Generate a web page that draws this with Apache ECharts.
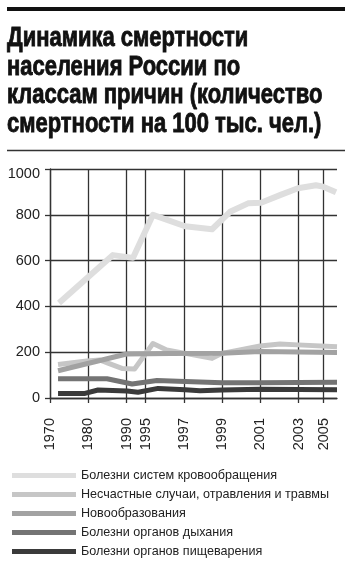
<!DOCTYPE html>
<html>
<head>
<meta charset="utf-8">
<script src="https://cdn.jsdelivr.net/npm/echarts@6/dist/echarts.min.js"></script>
<style>
html,body{margin:0;padding:0;background:#fff;}
#c{width:350px;height:566px;}
</style>
</head>
<body>
<div id="c"></div>
<script>
// Axis: positions are in "axis steps" along the horizontal scale (not evenly spaced years)
var tickPos = [0, 2, 4, 5, 7, 9, 11, 13, 14.3];
var tickLabels = ['1970', '1980', '1990', '1995', '1997', '1999', '2001', '2003', '2005'];
var yTicks = [0, 200, 400, 600, 800, 1000];

var titleText = 'Динамика смертности\nнаселения России по\nклассам причин (количество\nсмертности на 100 тыс. чел.)';

var seriesNames = [
  'Болезни систем кровообращения',
  'Несчастные случаи, отравления и травмы',
  'Новообразования',
  'Болезни органов дыхания',
  'Болезни органов пищеварения'
];

var circX = [0.47, 3.29, 4.34, 5.38, 7.06, 8.47, 9.41, 10.35, 11.03, 12.02, 12.96, 13.9, 14.27, 14.95];
var circY = [415, 624, 612, 800, 750, 737, 813, 850, 853, 886, 916, 929, 923, 898];

var accX = [0.42, 1.93, 2.6, 3.03, 3.76, 4.42, 5.38, 6.1, 7.06, 8.47, 8.99, 10.98, 12.02, 12.96, 15];
var accY = [146, 162, 166, 152, 129, 127, 238, 210, 195, 173, 195, 227, 236, 232, 224];

var neoX = [0.42, 4.0, 6.27, 8.99, 10.98, 15];
var neoY = [119, 192, 194, 195, 203, 199];

var respX = [0.42, 2.98, 4.29, 5.59, 7.06, 8.99, 10.98, 15];
var respY = [84, 84, 61, 76, 72, 67, 67, 69];

var digX = [0.42, 1.83, 2.51, 4.03, 4.6, 5.65, 7.06, 7.84, 8.99, 10.98, 15];
var digY = [20, 20, 35, 31, 25, 42, 36, 32, 35, 38, 36];

var colors = ['#dedede', '#c6c6c6', '#a2a2a2', '#747474', '#3a3a3a'];
var widths = [6, 5, 5, 5, 5];

var regular = "'Liberation Sans', Arial, sans-serif";

function pairs(xs, ys) {
  return xs.map(function (x, i) { return [x, ys[i]]; });
}
var allX = [circX, accX, neoX, respX, digX];
var allY = [circY, accY, neoY, respY, digY];

var chart = echarts.init(document.getElementById('c'), null, {renderer: 'canvas'});

var gridColor = '#333';
var series = seriesNames.map(function (n, i) {
  return {
    name: n,
    type: 'line',
    data: pairs(allX[i], allY[i]),
    symbol: 'none',
    lineStyle: {color: colors[i], width: widths[i], cap: 'butt', join: 'round'},
    itemStyle: {color: colors[i]},
    z: 3 + i,
    animation: false
  };
});

chart.setOption({
  animation: false,
  backgroundColor: '#fff',
  graphic: [
    {type: 'line', shape: {x1: 7, y1: 9, x2: 345, y2: 9}, style: {stroke: '#111', lineWidth: 4}},
    {type: 'line', shape: {x1: 7, y1: 150.5, x2: 345, y2: 150.5}, style: {stroke: '#333', lineWidth: 1.5}},
    {
      type: 'text',
      x: 7,
      y: 24.4,
      scaleX: 0.785,
      style: {
        text: titleText,
        fill: '#111',
        stroke: '#111',
        lineWidth: 0.9,
        font: "bold 28px 'Liberation Sans', Arial, sans-serif",
        lineHeight: 28.4,
        textAlign: 'left',
        textVerticalAlign: 'top'
      }
    }
  ],
  legend: {
    orient: 'vertical',
    left: 7,
    top: 462,
    height: 104,
    icon: 'rect',
    itemWidth: 64,
    itemHeight: 5,
    itemGap: 2,
    data: seriesNames,
    textStyle: {
      fontFamily: regular,
      fontSize: 12.6,
      lineHeight: 17,
      color: '#222'
    }
  },
  grid: {left: 50, right: 13, top: 169, bottom: 168, containLabel: false},
  xAxis: {
    type: 'value',
    min: 0,
    max: 15,
    axisLine: {show: true, lineStyle: {color: gridColor, width: 1.3}},
    axisTick: {show: true, inside: false, length: 5, customValues: tickPos, lineStyle: {color: gridColor, width: 1.3}},
    splitLine: {show: true, lineStyle: {color: gridColor, width: 1.3}},
    axisLabel: {
      customValues: tickPos,
      rotate: 90,
      margin: 20,
      fontFamily: regular,
      fontSize: 14.5,
      color: '#222',
      formatter: function (v) {
        for (var i = 0; i < tickPos.length; i++) {
          if (Math.abs(tickPos[i] - v) < 1e-6) return tickLabels[i];
        }
        return '';
      }
    }
  },
  yAxis: {
    type: 'value',
    min: 0,
    max: 1000,
    interval: 200,
    axisLine: {show: true, lineStyle: {color: gridColor, width: 1.3}},
    axisTick: {show: true, length: 5, lineStyle: {color: gridColor, width: 1.3}},
    splitLine: {show: true, lineStyle: {color: gridColor, width: 1.3}},
    axisLabel: {
      margin: 10,
      fontFamily: regular,
      fontSize: 14.5,
      color: '#222',
      formatter: function (v) {
        if (v === yTicks[yTicks.length - 1]) return '{t|' + v + '}';
        return String(v);
      },
      rich: {
        t: {padding: [10, 0, 0, 0], fontFamily: regular, fontSize: 14.5, color: '#222'}
      }
    }
  },
  series: series
});
</script>
</body>
</html>
